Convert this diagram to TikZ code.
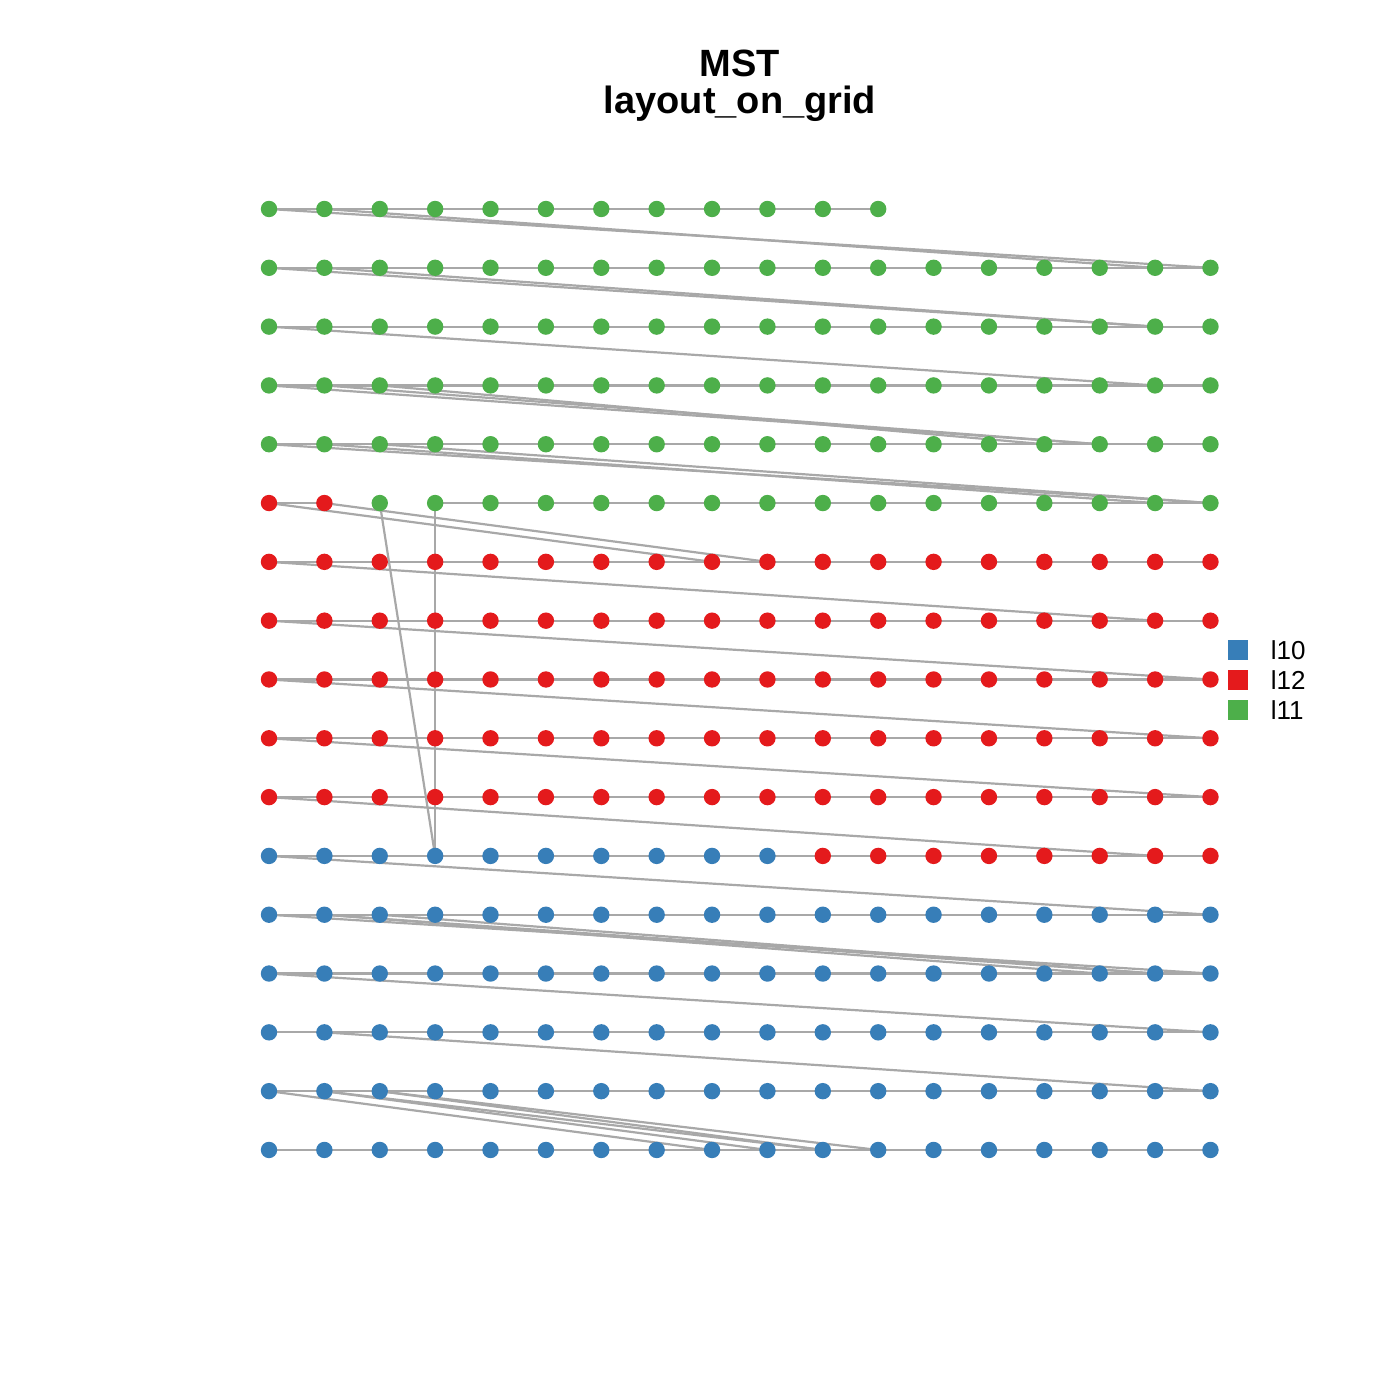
\documentclass[tikz,border=0pt]{standalone}
\usepackage{fontspec}
\setsansfont{Liberation Sans}
\usetikzlibrary{backgrounds,positioning}
\definecolor{grpblue}{HTML}{377EB8}
\definecolor{grpred}{HTML}{E41A1C}
\definecolor{grpgreen}{HTML}{4DAF4A}
\definecolor{edgegray}{HTML}{A8A8A8}

\begin{document}
\begin{tikzpicture}[x=0.5pt,y=-0.5pt,font=\sffamily,
  vtx/.style={circle,inner sep=0pt,minimum size=8.2pt},
  edg/.style={draw=edgegray,line width=1.1pt},
  ttl/.style={font=\sffamily\bfseries\fontsize{19}{22}\selectfont},
  key/.style={inner sep=0pt,minimum size=10pt},
  keytxt/.style={font=\sffamily\fontsize{13}{15}\selectfont,inner sep=0pt}]
  \useasboundingbox (0,0) rectangle (1400,1400);

  % title
  \node[ttl] (title) at (740,63) {MST};
  \node[ttl] (subtitle) at (740,104) {layout\_on\_grid};

  % vertices, row/first col/last col/colour
  \foreach \r/\a/\b/\col in {1/1/12/grpgreen,2/1/18/grpgreen,3/1/18/grpgreen,
      4/1/18/grpgreen,5/1/18/grpgreen,6/1/2/grpred,6/3/18/grpgreen,
      7/1/18/grpred,8/1/18/grpred,9/1/18/grpred,10/1/18/grpred,11/1/18/grpred,
      12/1/10/grpblue,12/11/18/grpred,13/1/18/grpblue,14/1/18/grpblue,
      15/1/18/grpblue,16/1/18/grpblue,17/1/18/grpblue} {
    \foreach \c in {\a,...,\b}
      \node[vtx,fill=\col] (v-\r-\c) at ({269+(\c-1)*55.38},{209+(\r-1)*58.81}) {};
  }

  \begin{scope}[on background layer]
    % chains along the rows
    \foreach \r/\a/\b in {1/1/12,2/1/18,3/1/18,4/1/18,5/1/18,6/1/2,6/4/18,
        7/1/18,8/1/18,9/1/18,10/1/18,11/1/18,12/1/18,13/1/18,14/1/18,
        15/1/18,16/1/18,17/1/18} {
      \pgfmathtruncatemacro\last{\b-1}
      \foreach \c in {\a,...,\last} {
        \pgfmathtruncatemacro\nxt{\c+1}
        \draw[edg] (v-\r-\c.center) -- (v-\r-\nxt.center);
      }
    }
    % long links between rows
    \foreach \ra/\ca/\rb/\cb in {1/1/2/18,1/2/2/17,2/1/3/17,2/2/3/17,3/1/4/17,
        4/1/5/16,4/2/5/16,4/3/5/15,5/1/6/18,5/2/6/17,5/3/6/18,
        6/1/7/9,6/2/7/10,6/3/12/4,6/4/12/4,7/1/8/17,8/1/9/18,9/1/10/18,
        10/1/11/18,11/1/12/17,12/1/13/18,13/1/14/18,13/2/14/17,13/2/14/16,
        13/3/14/17,14/1/15/18,15/2/16/18,16/1/17/9,16/2/17/10,16/2/17/11,
        16/3/17/11,16/3/17/12}
      \draw[edg] (v-\ra-\ca.center) -- (v-\rb-\cb.center);
  \end{scope}

  % legend
  \node[key,fill=grpblue] (k1) at (1238,650) {};
  \node[key,fill=grpred] (k2) at (1238,680) {};
  \node[key,fill=grpgreen] (k3) at (1238,710) {};
  \node[keytxt,right=11pt of k1] (t1) {l10};
  \node[keytxt,right=11pt of k2] (t2) {l12};
  \node[keytxt,right=11pt of k3] (t3) {l11};
\end{tikzpicture}
\end{document}
